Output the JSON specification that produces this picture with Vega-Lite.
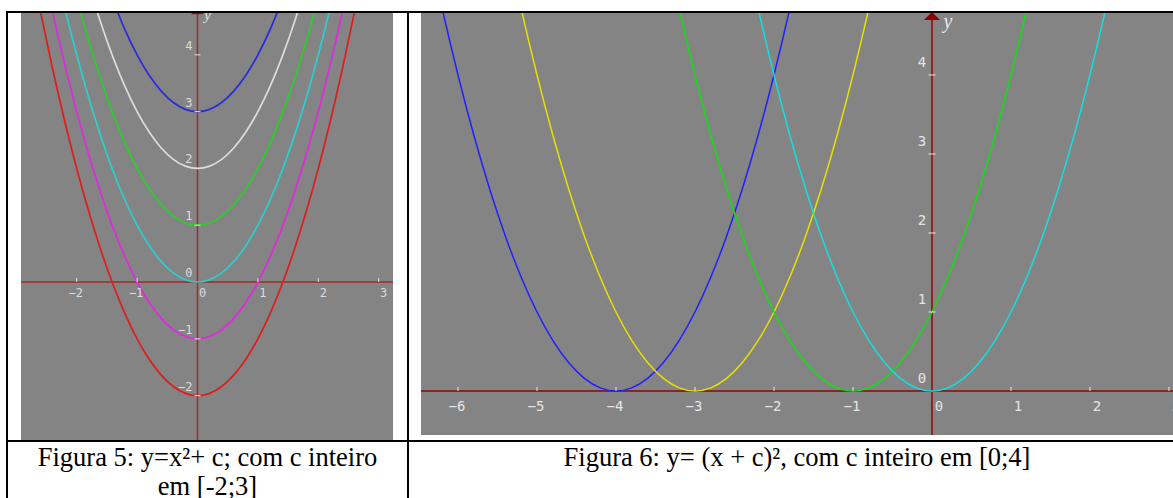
{
 "$schema": "https://vega.github.io/schema/vega-lite/v6.json",
 "background": "white",
 "padding": {"left": 5, "top": 10, "right": 0, "bottom": 0},
 "config": {"view": {"stroke": null}},
 "columns": 2,
 "spacing": 0,
 "bounds": "flush",
 "resolve": {"scale": {"color": "independent", "x": "independent", "y": "independent"}},
 "datasets": {
  "L": [
   {"x":-2.8,"r":5.84},
   {"x":-2.6,"r":4.76,"m":5.76},
   {"x":-2.4,"r":3.76,"m":4.76,"c":5.76},
   {"x":-2.2,"r":2.84,"m":3.84,"c":4.84,"g":5.84},
   {"x":-2.0,"r":2,"m":3,"c":4,"g":5},
   {"x":-1.8,"r":1.24,"m":2.24,"c":3.24,"g":4.24,"w":5.24},
   {"x":-1.6,"r":0.56,"m":1.56,"c":2.56,"g":3.56,"w":4.56},
   {"x":-1.4,"r":-0.04,"m":0.96,"c":1.96,"g":2.96,"w":3.96,"b":4.96},
   {"x":-1.2,"r":-0.56,"m":0.44,"c":1.44,"g":2.44,"w":3.44,"b":4.44},
   {"x":-1.0,"r":-1,"m":0,"c":1,"g":2,"w":3,"b":4},
   {"x":-0.8,"r":-1.36,"m":-0.36,"c":0.64,"g":1.64,"w":2.64,"b":3.64},
   {"x":-0.6,"r":-1.64,"m":-0.64,"c":0.36,"g":1.36,"w":2.36,"b":3.36},
   {"x":-0.4,"r":-1.84,"m":-0.84,"c":0.16,"g":1.16,"w":2.16,"b":3.16},
   {"x":-0.2,"r":-1.96,"m":-0.96,"c":0.04,"g":1.04,"w":2.04,"b":3.04},
   {"x":0,"r":-2,"m":-1,"c":0,"g":1,"w":2,"b":3},
   {"x":0.2,"r":-1.96,"m":-0.96,"c":0.04,"g":1.04,"w":2.04,"b":3.04},
   {"x":0.4,"r":-1.84,"m":-0.84,"c":0.16,"g":1.16,"w":2.16,"b":3.16},
   {"x":0.6,"r":-1.64,"m":-0.64,"c":0.36,"g":1.36,"w":2.36,"b":3.36},
   {"x":0.8,"r":-1.36,"m":-0.36,"c":0.64,"g":1.64,"w":2.64,"b":3.64},
   {"x":1.0,"r":-1,"m":0,"c":1,"g":2,"w":3,"b":4},
   {"x":1.2,"r":-0.56,"m":0.44,"c":1.44,"g":2.44,"w":3.44,"b":4.44},
   {"x":1.4,"r":-0.04,"m":0.96,"c":1.96,"g":2.96,"w":3.96,"b":4.96},
   {"x":1.6,"r":0.56,"m":1.56,"c":2.56,"g":3.56,"w":4.56},
   {"x":1.8,"r":1.24,"m":2.24,"c":3.24,"g":4.24,"w":5.24},
   {"x":2.0,"r":2,"m":3,"c":4,"g":5},
   {"x":2.2,"r":2.84,"m":3.84,"c":4.84,"g":5.84},
   {"x":2.4,"r":3.76,"m":4.76,"c":5.76},
   {"x":2.6,"r":4.76,"m":5.76},
   {"x":2.8,"r":5.84}
  ],
  "R": [
   {"x":-6.4,"bl":5.76},
   {"x":-6.2,"bl":4.84},
   {"x":-6.0,"bl":4},
   {"x":-5.8,"bl":3.24},
   {"x":-5.6,"bl":2.56},
   {"x":-5.4,"bl":1.96,"ye":5.76},
   {"x":-5.2,"bl":1.44,"ye":4.84},
   {"x":-5.0,"bl":1,"ye":4},
   {"x":-4.8,"bl":0.64,"ye":3.24},
   {"x":-4.6,"bl":0.36,"ye":2.56},
   {"x":-4.4,"bl":0.16,"ye":1.96},
   {"x":-4.2,"bl":0.04,"ye":1.44},
   {"x":-4.0,"bl":0,"ye":1},
   {"x":-3.8,"bl":0.04,"ye":0.64},
   {"x":-3.6,"bl":0.16,"ye":0.36},
   {"x":-3.4,"bl":0.36,"ye":0.16,"gr":5.76},
   {"x":-3.2,"bl":0.64,"ye":0.04,"gr":4.84},
   {"x":-3.0,"bl":1,"ye":0,"gr":4},
   {"x":-2.8,"bl":1.44,"ye":0.04,"gr":3.24},
   {"x":-2.6,"bl":1.96,"ye":0.16,"gr":2.56},
   {"x":-2.4,"bl":2.56,"ye":0.36,"gr":1.96,"cy":5.76},
   {"x":-2.2,"bl":3.24,"ye":0.64,"gr":1.44,"cy":4.84},
   {"x":-2.0,"bl":4,"ye":1,"gr":1,"cy":4},
   {"x":-1.8,"bl":4.84,"ye":1.44,"gr":0.64,"cy":3.24},
   {"x":-1.6,"bl":5.76,"ye":1.96,"gr":0.36,"cy":2.56},
   {"x":-1.4,"ye":2.56,"gr":0.16,"cy":1.96},
   {"x":-1.2,"ye":3.24,"gr":0.04,"cy":1.44},
   {"x":-1.0,"ye":4,"gr":0,"cy":1},
   {"x":-0.8,"ye":4.84,"gr":0.04,"cy":0.64},
   {"x":-0.6,"ye":5.76,"gr":0.16,"cy":0.36},
   {"x":-0.4,"gr":0.36,"cy":0.16},
   {"x":-0.2,"gr":0.64,"cy":0.04},
   {"x":0,"gr":1,"cy":0},
   {"x":0.2,"gr":1.44,"cy":0.04},
   {"x":0.4,"gr":1.96,"cy":0.16},
   {"x":0.6,"gr":2.56,"cy":0.36},
   {"x":0.8,"gr":3.24,"cy":0.64},
   {"x":1.0,"gr":4,"cy":1},
   {"x":1.2,"gr":4.84,"cy":1.44},
   {"x":1.4,"gr":5.76,"cy":1.96},
   {"x":1.6,"cy":2.56},
   {"x":1.8,"cy":3.24},
   {"x":2.0,"cy":4},
   {"x":2.2,"cy":4.84},
   {"x":2.4,"cy":5.76}
  ]
 },
 "concat": [
  {
   "width": 401, "height": 429,
   "encoding": {
    "x": {"field": "x", "type": "quantitative", "scale": {"domain": [-3.154, 3.485], "nice": false, "zero": false}, "axis": null},
    "y": {"field": "y", "type": "quantitative", "scale": {"domain": [-2.799, 4.754], "nice": false, "zero": false}, "axis": null}
   },
   "layer": [
    {"data": {"values": [{"x": -2.922, "x2": 3.237, "y": -2.782, "y2": 4.736}]},
     "mark": {"type": "rect", "color": "#848484"},
     "encoding": {"x2": {"field": "x2"}, "y2": {"field": "y2"}}},
    {"data": {"values": [{"x": -2.922, "x2": 3.237, "y": 0, "y2": 0}, {"x": 0, "x2": 0, "y": -2.782, "y2": 4.736}]},
     "mark": {"type": "rule", "color": "#a02a2a", "strokeWidth": 1.5},
     "encoding": {"x2": {"field": "x2"}, "y2": {"field": "y2"}}},
    {"data": {"name": "L"},
     "transform": [{"fold": ["r", "m", "c", "g", "w", "b"], "as": ["k", "y"]}],
     "mark": {"type": "line", "interpolate": "monotone", "strokeWidth": 1.7, "clip": true},
     "encoding": {"color": {"field": "k", "type": "nominal", "scale": {"domain": ["r", "m", "c", "g", "w", "b"], "range": ["#e01c1c", "#e028e0", "#28d0d0", "#28d028", "#dcdcdc", "#2a2ae0"]}, "legend": null}}},
    {"data": {"values": [{"x": -2, "y": 0}, {"x": -1, "y": 0}, {"x": 1, "y": 0}, {"x": 2, "y": 0}, {"x": 3, "y": 0}]},
     "mark": {"type": "tick", "orient": "vertical", "size": 4, "thickness": 1, "yOffset": -2, "color": "#e0e0e0", "opacity": 1}},
    {"data": {"values": [{"x": 0, "y": -2}, {"x": 0, "y": -1}, {"x": 0, "y": 1}, {"x": 0, "y": 2}, {"x": 0, "y": 3}, {"x": 0, "y": 4}]},
     "mark": {"type": "tick", "orient": "horizontal", "size": 6, "thickness": 1, "color": "#e0e0e0", "opacity": 1}},
    {"data": {"values": [{"x": -2, "y": 0}, {"x": -1, "y": 0}]},
     "mark": {"type": "text", "font": "DejaVu Sans Mono", "fontSize": 12, "color": "#dcdcdc", "align": "center", "baseline": "middle", "dx": -1, "dy": 11, "clip": true},
     "encoding": {"text": {"field": "x", "type": "quantitative"}}},
    {"data": {"values": [{"x": 0, "y": 0}, {"x": 1, "y": 0}, {"x": 2, "y": 0}, {"x": 3, "y": 0}]},
     "mark": {"type": "text", "font": "DejaVu Sans Mono", "fontSize": 12, "color": "#dcdcdc", "align": "center", "baseline": "middle", "dx": 5, "dy": 11, "clip": true},
     "encoding": {"text": {"field": "x", "type": "quantitative"}}},
    {"data": {"values": [{"x": 0, "y": 4}, {"x": 0, "y": 3}, {"x": 0, "y": 2}, {"x": 0, "y": 1}, {"x": 0, "y": 0}, {"x": 0, "y": -1}, {"x": 0, "y": -2}]},
     "mark": {"type": "text", "font": "DejaVu Sans Mono", "fontSize": 12, "color": "#dcdcdc", "align": "right", "baseline": "middle", "dx": -5, "dy": -9, "clip": true},
     "encoding": {"text": {"field": "y", "type": "quantitative"}}},
    {"data": {"values": [{"x": 0, "y": 4.77}]},
     "mark": {"type": "point", "shape": "M-1,0.5L1,0.5L0,-0.5Z", "size": 169, "filled": true, "color": "#9a1010", "opacity": 1, "clip": true}},
    {"data": {"values": [{"x": 0, "y": 4.77, "t": "y"}]},
     "mark": {"type": "text", "font": "Liberation Serif", "fontStyle": "italic", "fontSize": 15, "color": "#e0e0e0", "align": "center", "baseline": "alphabetic", "dx": 10, "dy": 9, "clip": true},
     "encoding": {"text": {"field": "t"}}},
    {"data": {"values": [{"x": -3.154, "x2": 3.485, "y": 4.754, "y2": 4.754}, {"x": -3.154, "x2": 3.485, "y": -2.799, "y2": -2.799}, {"x": -3.154, "x2": -3.154, "y": -2.799, "y2": 4.754}, {"x": 3.485, "x2": 3.485, "y": -2.799, "y2": 4.754}]},
     "mark": {"type": "rule", "color": "black", "strokeWidth": 2, "strokeCap": "square"},
     "encoding": {"x2": {"field": "x2"}, "y2": {"field": "y2"}}}
   ]
  },
  {
   "width": 765, "height": 429,
   "encoding": {
    "x": {"field": "x", "type": "quantitative", "scale": {"domain": [-6.633, 3.051], "nice": false, "zero": false}, "axis": null},
    "y": {"field": "y", "type": "quantitative", "scale": {"domain": [-0.633, 4.797], "nice": false, "zero": false}, "axis": null}
   },
   "layer": [
    {"data": {"values": [{"x": -6.468, "x2": 3.064, "y": -0.557, "y2": 4.785}]},
     "mark": {"type": "rect", "color": "#848484"},
     "encoding": {"x2": {"field": "x2"}, "y2": {"field": "y2"}}},
    {"data": {"values": [{"x": -6.468, "x2": 3.064, "y": 0, "y2": 0}, {"x": 0, "x2": 0, "y": -0.557, "y2": 4.72}]},
     "mark": {"type": "rule", "color": "#8e2424", "strokeWidth": 2},
     "encoding": {"x2": {"field": "x2"}, "y2": {"field": "y2"}}},
    {"data": {"name": "R"},
     "transform": [{"fold": ["bl", "ye", "gr", "cy"], "as": ["k", "y"]}],
     "mark": {"type": "line", "interpolate": "monotone", "strokeWidth": 1.5, "clip": true},
     "encoding": {"color": {"field": "k", "type": "nominal", "scale": {"domain": ["bl", "ye", "gr", "cy"], "range": ["#2020ff", "#e8e000", "#10e010", "#10e0e0"]}, "legend": null}}},
    {"data": {"values": [{"x": -6, "y": 0}, {"x": -5, "y": 0}, {"x": -4, "y": 0}, {"x": -3, "y": 0}, {"x": -2, "y": 0}, {"x": -1, "y": 0}, {"x": 1, "y": 0}, {"x": 2, "y": 0}, {"x": 3, "y": 0}]},
     "mark": {"type": "tick", "orient": "vertical", "size": 4, "thickness": 1, "yOffset": -2, "color": "#e8e8e8", "opacity": 1}},
    {"data": {"values": [{"x": 0, "y": 1}, {"x": 0, "y": 2}, {"x": 0, "y": 3}, {"x": 0, "y": 4}]},
     "mark": {"type": "tick", "orient": "horizontal", "size": 7, "thickness": 1, "color": "#e8e8e8", "opacity": 1}},
    {"data": {"values": [{"x": -6, "y": 0}, {"x": -5, "y": 0}, {"x": -4, "y": 0}, {"x": -3, "y": 0}, {"x": -2, "y": 0}, {"x": -1, "y": 0}]},
     "mark": {"type": "text", "font": "DejaVu Sans Mono", "fontSize": 14, "color": "#e4e4e4", "align": "center", "baseline": "middle", "dx": -1, "dy": 16, "clip": true},
     "encoding": {"text": {"field": "x", "type": "quantitative"}}},
    {"data": {"values": [{"x": 0, "y": 0}, {"x": 1, "y": 0}, {"x": 2, "y": 0}, {"x": 3, "y": 0}]},
     "mark": {"type": "text", "font": "DejaVu Sans Mono", "fontSize": 14, "color": "#e4e4e4", "align": "center", "baseline": "middle", "dx": 7, "dy": 16, "clip": true},
     "encoding": {"text": {"field": "x", "type": "quantitative"}}},
    {"data": {"values": [{"x": 0, "y": 4}, {"x": 0, "y": 3}, {"x": 0, "y": 2}, {"x": 0, "y": 1}, {"x": 0, "y": 0}]},
     "mark": {"type": "text", "font": "DejaVu Sans Mono", "fontSize": 14, "color": "#e4e4e4", "align": "center", "baseline": "middle", "dx": -10, "dy": -12, "clip": true},
     "encoding": {"text": {"field": "y", "type": "quantitative"}}},
    {"data": {"values": [{"x": 0, "y": 4.747}]},
     "mark": {"type": "point", "shape": "M-1,0.5L1,0.5L0,-0.5Z", "size": 256, "filled": true, "color": "#8b0000", "opacity": 1, "clip": true}},
    {"data": {"values": [{"x": 0, "y": 4.747, "t": "y"}]},
     "mark": {"type": "text", "font": "Liberation Serif", "fontStyle": "italic", "fontSize": 20, "color": "#e8e8e8", "align": "center", "baseline": "alphabetic", "dx": 16, "dy": 12, "clip": true},
     "encoding": {"text": {"field": "t"}}},
    {"data": {"values": [{"x": -6.633, "x2": 3.051, "y": 4.797, "y2": 4.797}, {"x": -6.633, "x2": 3.051, "y": -0.633, "y2": -0.633}]},
     "mark": {"type": "rule", "color": "black", "strokeWidth": 2, "strokeCap": "square"},
     "encoding": {"x2": {"field": "x2"}, "y2": {"field": "y2"}}}
   ]
  },
  {
   "width": 401, "height": 58,
   "layer": [
    {"data": {"values": [{"x": 0}, {"x": 1}]},
     "mark": {"type": "rule", "color": "black", "strokeWidth": 2},
     "encoding": {"x": {"field": "x", "type": "quantitative", "scale": {"domain": [0, 1], "nice": false, "zero": false}, "axis": null}}},
    {"data": {"values": [{"line": 1, "t": "Figura 5: y=x²+ c; com c inteiro"}, {"line": 2, "t": "em [-2;3]"}]},
     "mark": {"type": "text", "font": "Liberation Serif", "fontSize": 26.5, "color": "black", "align": "center", "baseline": "alphabetic", "dy": 10.5, "clip": true},
     "encoding": {
      "y": {"field": "line", "type": "ordinal", "scale": {"domain": [1, 2], "padding": 0.4667}, "axis": null},
      "text": {"field": "t"}
     }}
   ]
  },
  {
   "width": 765, "height": 58,
   "data": {"values": [{"line": 1, "t": "Figura 6: y= (x + c)², com c inteiro em [0;4]"}]},
   "mark": {"type": "text", "font": "Liberation Serif", "fontSize": 26.5, "color": "black", "align": "center", "baseline": "alphabetic", "dx": 6.5, "dy": 10.5, "clip": true},
   "encoding": {
    "y": {"field": "line", "type": "ordinal", "scale": {"domain": [1, 2], "padding": 0.4667}, "axis": null},
    "text": {"field": "t"}
   }
  }
 ]
}
